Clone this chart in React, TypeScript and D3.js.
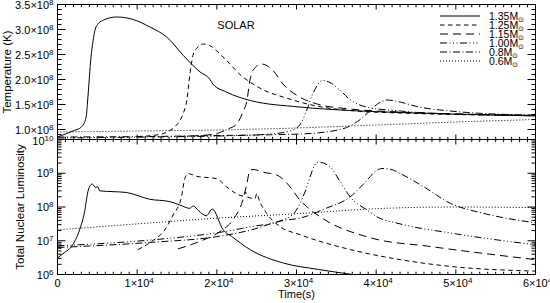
import React from 'react';
import * as d3 from 'd3';

const W = 550;
const H = 303;
const L = 57.5;
const R = 535.5;
const T = 4.5;
const M = 139.5;
const B = 274.5;
const FONT = '"Liberation Sans", Arial, Helvetica, sans-serif';

// series (legend order)
const masses = ['1.35', '1.25', '1.15', '1.00', '0.8', '0.6'];
const dashes = ['', '4.5,3.5', '8,5', '7,2.5,1,2.5,1,2.5,1,2.5', '7,2.5,1,2.5', '1,2'];

// ticks
const xMajor = [0, 1e4, 2e4, 3e4, 4e4, 5e4, 6e4];
const xMant = ['0', '1', '2', '3', '4', '5', '6'];
const tempMajor = [1.0, 1.5, 2.0, 2.5, 3.0, 3.5];
const tempLabels = ['1.0', '1.5', '2.0', '2.5', '3.0', '3.5'];
const lumExp = [6, 7, 8, 9, 10];

// temperature, units of 1e8 K : [time (s), T]
const temp135 = [[0, 0.85], [500, 0.88], [2100, 0.98], [3000, 1.05], [3600, 1.25], [3770, 1.55], [3960, 1.95], [4150, 2.35], [4400, 2.7], [4650, 2.95], [5030, 3.1], [5660, 3.18], [7400, 3.25], [9500, 3.2], [11600, 3.05], [13700, 2.85], [15800, 2.48], [17900, 2.15], [19100, 2.01], [19500, 1.91], [21200, 1.75], [24200, 1.58], [30400, 1.45], [36700, 1.38], [43000, 1.34], [49300, 1.31], [60000, 1.27]];
const temp125 = [[10100, 0.86], [12800, 0.9], [14100, 0.98], [14700, 1.05], [15500, 1.22], [15850, 1.35], [16230, 1.58], [16600, 2.08], [17000, 2.48], [17450, 2.62], [18300, 2.71], [19100, 2.68], [20400, 2.51], [21600, 2.32], [22900, 2.1], [24150, 1.95], [26000, 1.78], [28300, 1.65], [32500, 1.47], [36700, 1.38], [43000, 1.33], [60000, 1.28]];
const temp115 = [[15100, 0.86], [17900, 0.88], [19750, 0.91], [21400, 1.01], [22500, 1.11], [23270, 1.35], [23780, 1.58], [24150, 1.98], [24530, 2.18], [25600, 2.31], [27050, 2.18], [28300, 1.91], [30070, 1.68], [32600, 1.51], [36700, 1.41], [43000, 1.35], [50600, 1.31], [60000, 1.28]];
const temp100 = [[0, 0.83], [11600, 0.85], [20400, 0.87], [26700, 0.91], [29200, 0.97], [30450, 1.1], [31200, 1.35], [31950, 1.68], [32600, 1.88], [33200, 1.98], [34200, 1.94], [35500, 1.78], [36700, 1.6], [38800, 1.45], [43000, 1.37], [49300, 1.31], [60000, 1.28]];
const temp08 = [[0, 0.85], [11600, 0.86], [20400, 0.88], [30450, 0.91], [35500, 1.0], [38000, 1.2], [39250, 1.38], [40250, 1.52], [41350, 1.59], [43000, 1.55], [45100, 1.46], [49300, 1.37], [53500, 1.32], [60000, 1.29]];
const temp06 = [[0, 0.95], [10000, 0.97], [20000, 0.99], [30000, 1.03], [40000, 1.09], [50000, 1.15], [60000, 1.2]];

// log10 of total nuclear luminosity : [time (s), log L]
const lum135 = [[0, 6.49], [880, 6.65], [1760, 6.83], [2770, 7.32], [3400, 7.86], [3810, 8.45], [4240, 8.67], [4370, 8.68], [4780, 8.58], [5070, 8.6], [5280, 8.48], [8640, 8.43], [11570, 8.23], [14090, 8.16], [15350, 8.06], [16600, 7.96], [17020, 8.03], [17740, 7.88], [18700, 7.74], [19410, 7.94], [20800, 7.32], [21850, 7.13], [24150, 6.74], [28340, 6.34], [32750, 6.15], [37000, 6.0], [40000, 5.9]];
const lum125 = [[10100, 6.74], [12000, 7.01], [13460, 7.32], [14500, 7.76], [15560, 8.3], [15980, 8.84], [16390, 8.99], [17450, 8.91], [19970, 8.84], [21220, 8.6], [22270, 8.42], [23400, 8.32], [23590, 8.45], [23780, 8.3], [24780, 8.25], [25030, 8.4], [25290, 8.22], [26260, 7.81], [27930, 7.42], [30440, 7.18], [36730, 6.74], [43020, 6.44], [49310, 6.24], [60000, 6.1]];
const lum115 = [[15130, 6.76], [17860, 6.98], [20380, 7.27], [22020, 7.62], [23270, 8.21], [23780, 8.7], [24150, 9.09], [24530, 9.11], [26040, 9.02], [27510, 8.95], [29190, 8.6], [30440, 8.2], [31290, 8.01], [32960, 7.71], [39250, 7.09], [46800, 6.83], [60000, 6.44]];
const lum100 = [[0, 6.85], [11570, 7.02], [20380, 7.25], [24150, 7.41], [28300, 7.62], [29820, 7.85], [30440, 8.11], [31070, 8.45], [31700, 8.89], [32200, 9.2], [32750, 9.33], [34220, 9.19], [35480, 8.75], [36730, 8.3], [38840, 7.91], [40090, 7.71], [43020, 7.5], [49310, 7.23], [60000, 6.88]];
const lum08 = [[0, 6.8], [11570, 6.95], [20250, 7.13], [24150, 7.31], [28300, 7.6], [30440, 7.67], [33590, 7.95], [36730, 8.3], [38840, 8.79], [39880, 9.05], [40720, 9.14], [41770, 9.12], [43020, 8.99], [45960, 8.6], [49310, 8.11], [53500, 7.81], [60000, 7.53]];
const lum06 = [[0, 7.32], [10000, 7.5], [20000, 7.67], [30000, 7.8], [40000, 7.95], [50000, 8.0], [60000, 7.98]];

const tempSeries = [temp135, temp125, temp115, temp100, temp08, temp06];
const lumSeries = [lum135, lum125, lum115, lum100, lum08, lum06];

export default function App() {
  const x = d3.scaleLinear().domain([0, 6e4]).range([L, R]);
  const yT = d3.scaleLinear().domain([0.8e8, 3.5e8]).range([M, T]);
  const yL = d3.scaleLog().domain([1e6, 1e10]).range([B, M]);

  const lineT = d3.line<number[]>()
    .x(d => x(d[0]))
    .y(d => yT(d[1] * 1e8))
    .curve(d3.curveMonotoneX);
  const lineL = d3.line<number[]>()
    .x(d => x(d[0]))
    .y(d => yL(Math.pow(10, d[1])))
    .curve(d3.curveMonotoneX);

  const xMinor = d3.range(0, 60001, 1000).filter(v => v % 10000 !== 0);
  const tMinor = d3.range(8, 36).map(v => v / 10).filter(v => !tempMajor.some(m => Math.abs(m - v) < 1e-6));
  const lMinor: number[] = [];
  for (let e = 6; e < 10; e++) for (let k = 2; k < 10; k++) lMinor.push(k * Math.pow(10, e));

  const yMaj = 8, yMin = 4, xMaj = 5, xMin = 2.7;

  const ticks: React.ReactNode[] = [];
  const addX = (y0: number, dir: number, key: string) => {
    xMajor.forEach((v, i) => ticks.push(<line key={`${key}M${i}`} x1={x(v)} x2={x(v)} y1={y0} y2={y0 + dir * xMaj} />));
    xMinor.forEach((v, i) => ticks.push(<line key={`${key}m${i}`} x1={x(v)} x2={x(v)} y1={y0} y2={y0 + dir * xMin} />));
  };
  addX(T, 1, 'tt');
  addX(M, -1, 'tb');
  addX(M, 1, 'bt');
  addX(B, -1, 'bb');
  const addY = (vals: number[], sc: (v: number) => number, len: number, key: string) => {
    vals.forEach((v, i) => {
      ticks.push(<line key={`${key}l${i}`} x1={L} x2={L + len} y1={sc(v)} y2={sc(v)} />);
      ticks.push(<line key={`${key}r${i}`} x1={R} x2={R - len} y1={sc(v)} y2={sc(v)} />);
    });
  };
  addY(tempMajor.map(v => v * 1e8), yT, yMaj, 'tM');
  addY(tMinor.map(v => v * 1e8), yT, yMin, 'tm');
  addY(lumExp.map(e => Math.pow(10, e)), yL, yMaj, 'lM');
  addY(lMinor, yL, yMin, 'lm');

  return (
    <svg width={W} height={H} style={{ position: 'absolute', left: 0, top: 0, background: '#fff' }} fontFamily={FONT}>
      <defs>
        <clipPath id="clipT"><rect x={L} y={T} width={R - L} height={M - T} /></clipPath>
        <clipPath id="clipL"><rect x={L} y={M} width={R - L} height={B - M} /></clipPath>
      </defs>

      <g clipPath="url(#clipT)" fill="none" stroke="#000" strokeWidth={1}>
        {tempSeries.map((s, i) => (
          <path key={i} d={lineT(s) || ''} strokeDasharray={dashes[i] || undefined} />
        ))}
      </g>
      <g clipPath="url(#clipL)" fill="none" stroke="#000" strokeWidth={1}>
        {lumSeries.map((s, i) => (
          <path key={i} d={lineL(s) || ''} strokeDasharray={dashes[i] || undefined} />
        ))}
      </g>

      <g stroke="#000" strokeWidth={1} fill="none">
        <rect x={L} y={T} width={R - L} height={M - T} />
        <rect x={L} y={M} width={R - L} height={B - M} />
        {ticks}
      </g>

      <g fontSize={11} fill="#000">
        {tempMajor.map((v, i) => (
          <text key={i} x={53.5} y={yT(v * 1e8) + 4} textAnchor="end">
            {tempLabels[i]}×10<tspan dy={-4} fontSize={8}>8</tspan>
          </text>
        ))}
        {lumExp.map(e => (
          <text key={e} x={53.5} y={yL(Math.pow(10, e)) + (e === 10 ? 5 : 4)} textAnchor="end">
            10<tspan dy={-4} fontSize={8}>{e}</tspan>
          </text>
        ))}
        {xMajor.map((v, i) => (
          <text key={i} x={x(v) + (i === 0 ? 0 : 2)} y={287} textAnchor="middle">
            {xMant[i]}
            {i > 0 ? <>×10<tspan dy={-4} fontSize={8}>4</tspan></> : null}
          </text>
        ))}
        <text x={(L + R) / 2} y={298} textAnchor="middle">Time(s)</text>
        <text x={236} y={29} textAnchor="middle">SOLAR</text>
      </g>

      <g fontSize={11.5} fill="#000">
        <text transform={`translate(10.5,${(T + M) / 2}) rotate(-90)`} textAnchor="middle">Temperature (K)</text>
        <text transform={`translate(24,${(M + B) / 2}) rotate(-90)`} textAnchor="middle">Total Nuclear Luminosity</text>
      </g>

      <g fontSize={10.5} fill="#000">
        {masses.map((m, i) => {
          const cy = 16 + i * 9;
          return (
            <g key={m}>
              <line x1={440} x2={480} y1={cy} y2={cy} stroke="#000" strokeWidth={1} strokeDasharray={dashes[i] || undefined} />
              <text x={489} y={cy + 3.5}>
                {m}M<tspan dy={2.5} fontSize={6.5}>⊙</tspan>
              </text>
            </g>
          );
        })}
      </g>
    </svg>
  );
}
